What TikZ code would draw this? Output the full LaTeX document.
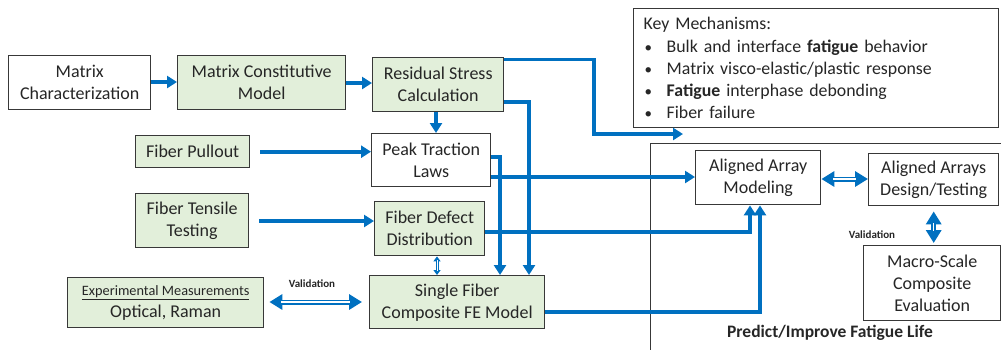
\documentclass[tikz,border=0pt]{standalone}
\usepackage{fontspec}
\setmainfont{Carlito}
\usetikzlibrary{arrows.meta,calc}
\definecolor{flowblue}{HTML}{0070C0}
\definecolor{boxgreen}{HTML}{E2EFDA}
\definecolor{edgegray}{HTML}{383838}
\definecolor{inkgray}{HTML}{262626}
\newcommand{\keybullet}{\makebox[23pt][l]{\hspace{1pt}{\fontsize{15}{15}\selectfont•}}}

\begin{document}
\begin{tikzpicture}[x=1pt,y=-1pt,
  box/.style={draw=edgegray, line width=1.4pt, fill=white, align=center, text=inkgray,
    inner sep=0pt, anchor=north west, font=\fontsize{18}{22}\selectfont},
  gbox/.style={box, fill=boxgreen},
  flow/.style={draw=flowblue, line width=3.6pt, line join=miter,
    -{Triangle[length=10pt,width=12pt]}},
  dblout/.style={draw=flowblue, line width=5pt,
    {Triangle[length=13pt,width=15pt]}-{Triangle[length=13pt,width=15pt]}},
  dblin/.style={draw=white, line width=1.4pt, shorten <=12pt, shorten >=12pt},
  tinyout/.style={draw=flowblue, line width=3pt,
    {Triangle[length=5pt,width=7pt]}-{Triangle[length=5pt,width=7pt]}},
  tinyin/.style={draw=white, line width=0.8pt, shorten <=4pt, shorten >=4pt},
  vlabel/.style={font=\fontsize{11}{12}\selectfont\bfseries, text=inkgray}
]
\path[use as bounding box] (0,0) rectangle (1001,349);
\clip (0,0) rectangle (1001,349);

% ---- left-hand chain of inputs ----
\node[box]  (mchar)   at (8,55)   [minimum width=142, minimum height=54] {Matrix\\Characterization};
\node[gbox] (mconst)  at (177,55) [minimum width=168, minimum height=54] {Matrix Constitutive\\Model};
\node[gbox] (resid)   at (372,57) [minimum width=131, minimum height=54] {Residual Stress\\Calculation};
\node[box]  (peak)    at (371,133)[minimum width=119, minimum height=53] {Peak Traction\\Laws};
\node[gbox] (pullout) at (135,135)[minimum width=114, minimum height=32] {Fiber Pullout};
\node[gbox] (tensile) at (135,193)[minimum width=113, minimum height=54] {Fiber Tensile\\Testing};
\node[gbox] (defect)  at (374,201)[minimum width=110, minimum height=54] {Fiber Defect\\Distribution};
\node[gbox] (single)  at (369,275)[minimum width=175, minimum height=53] {Single Fiber\\Composite FE Model};
\node[gbox] (exper)   at (67,277) [minimum width=196, minimum height=50]
  {{\fontsize{14.3}{18}\selectfont\underline{Experimental Measurements}}\\Optical, Raman};

% ---- mechanisms list ----
\node[box, align=left, inner xsep=10pt, text width=345, font=\fontsize{17.8}{22.3}\selectfont]
  (key) at (633,8) [minimum width=365, minimum height=119]
  {Key Mechanisms:\\
   \keybullet Bulk and interface \textbf{fatigue} behavior\\
   \keybullet Matrix visco-elastic/plastic response\\
   \keybullet\textbf{Fatigue} interphase debonding\\
   \keybullet Fiber failure};

% ---- prediction frame ----
\node[box, fill=none] (predict) at (650,143) [minimum width=360, minimum height=220] {};
\node[box] (aam)   at (695,150) [minimum width=125, minimum height=54] {Aligned Array\\Modeling};
\node[box] (aads)  at (868,153) [minimum width=130, minimum height=52] {Aligned Arrays\\Design/Testing};
\node[box] (macro) at (863,245) [minimum width=137, minimum height=75] {Macro-Scale\\Composite\\Evaluation};
\node[font=\fontsize{17.5}{20}\selectfont\bfseries, text=inkgray] (plabel) at (830,333) {Predict/Improve Fatigue Life};

\node[vlabel] (val1) at (312,284) {Validation};
\node[vlabel] (val2) at (872,235) {Validation};

\coordinate (keyin) at (683,134);

% ---- flow connectors ----
\draw[flow] (mchar.east |- 0,82) -- (mconst.west |- 0,82);
\draw[flow] (mconst.east |- 0,83) -- (resid.west |- 0,83);
\draw[flow] (resid.south -| 436,0) -- (peak.north -| 436,0);
\draw[flow] ([xshift=10pt]pullout.east) -- (pullout.east -| peak.west);
\draw[flow] ([xshift=10pt]tensile.east |- 0,221) -- (defect.west |- 0,221);
\draw[flow] (resid.east |- 0,59.5) -| (594,134) -- (keyin);
\draw[flow] (resid.east |- 0,102) -| (single.north -| 529,0);
\draw[flow] (peak.east |- 0,157) -| (single.north -| 500,0);
\draw[flow] (peak.east |- 0,177) -- (aam.west |- 0,177);
\draw[flow] (defect.east |- 0,232) -| (aam.south -| 750,0);
\draw[flow] (single.east |- 0,312) -| (aam.south -| 760,0);

% ---- two-way validation links ----
\draw[dblout] ([xshift=5pt]exper.east |- 0,302) -- ([xshift=-7pt]single.west |- 0,302);
\draw[dblin]  ([xshift=5pt]exper.east |- 0,302) -- ([xshift=-7pt]single.west |- 0,302);
\draw[dblout] (aam.east |- 0,179) -- (aads.west |- 0,179);
\draw[dblin]  (aam.east |- 0,179) -- (aads.west |- 0,179);
\draw[dblout] ([yshift=-5pt]aads.south) -- ([yshift=2pt]macro.north -| aads.south);
\draw[dblin]  ([yshift=-5pt]aads.south) -- ([yshift=2pt]macro.north -| aads.south);
\draw[tinyout] (defect.south -| 437,0) -- (single.north -| 437,0);
\draw[tinyin]  (defect.south -| 437,0) -- (single.north -| 437,0);
\end{tikzpicture}
\end{document}
